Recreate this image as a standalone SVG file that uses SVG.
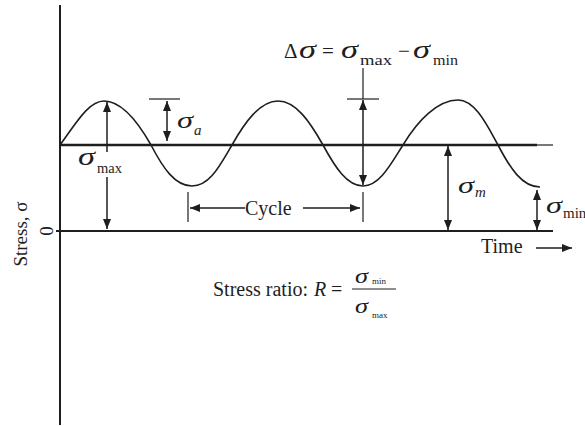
<svg xmlns="http://www.w3.org/2000/svg" width="585" height="426" viewBox="0 0 585 426">
<style>
.ln{stroke:#1e1e1e;fill:none}
.t{font-family:"Liberation Serif","Times New Roman",serif;fill:#1e1e1e}
.s{font-family:"Liberation Serif","Times New Roman",serif;font-style:italic;fill:#1e1e1e}
</style>
<defs>
<marker id="ah" viewBox="0 0 10 8" refX="10" refY="4" markerWidth="10" markerHeight="8" markerUnits="userSpaceOnUse" orient="auto-start-reverse">
<path d="M0,0 L10,4 L0,8 Z" fill="#1e1e1e"/>
</marker>
</defs>
<rect width="585" height="426" fill="#fff"/>
<g id="axes">
<line class="ln" x1="60" y1="5" x2="60" y2="425" stroke-width="2"/>
<line class="ln" x1="56" y1="231" x2="553" y2="231" stroke-width="2"/>
<line class="ln" x1="60" y1="145" x2="537" y2="145" stroke-width="2.5"/>
<line class="ln" x1="537" y1="145" x2="553" y2="145" stroke-width="1.2"/>
</g>
<g id="wave">
<path class="ln" stroke-width="1.6" d="M60,145 C75,125 88,101 104,101 C122,101 138,122 151,145 C163,168 175,186 192,186 C210,186 220,165 232,145 C245,122 260,101 278,101 C296,101 310,122 323,145 C335,167 347,186 363,186 C380,186 392,162 403,145 C418,120 438,100 458,100 C475,100 487,125 498,145 C510,168 522,187 540,187"/>
</g>
<g id="connectors">
<line class="ln" stroke-width="1.5" x1="107" y1="152" x2="107" y2="102" marker-end="url(#ah)"/>
<line class="ln" stroke-width="1.5" x1="107" y1="177" x2="107" y2="229" marker-end="url(#ah)"/>
<line class="ln" stroke-width="1.2" x1="149" y1="99" x2="180" y2="99"/>
<line class="ln" stroke-width="1.5" x1="167" y1="101" x2="167" y2="141" marker-start="url(#ah)" marker-end="url(#ah)"/>
<line class="ln" stroke-width="1.2" x1="363" y1="68" x2="363" y2="99"/>
<line class="ln" stroke-width="1.2" x1="347" y1="99" x2="379" y2="99"/>
<line class="ln" stroke-width="1.5" x1="363" y1="100" x2="363" y2="185" marker-start="url(#ah)" marker-end="url(#ah)"/>
<line class="ln" stroke-width="1.5" x1="448" y1="146" x2="448" y2="230" marker-start="url(#ah)" marker-end="url(#ah)"/>
<line class="ln" stroke-width="1.5" x1="537" y1="190" x2="537" y2="230" marker-start="url(#ah)" marker-end="url(#ah)"/>
<line class="ln" stroke-width="1.2" x1="188" y1="192" x2="188" y2="222"/>
<line class="ln" stroke-width="1.2" x1="363" y1="192" x2="363" y2="222"/>
<line class="ln" stroke-width="1.5" x1="245" y1="208" x2="190" y2="208" marker-end="url(#ah)"/>
<line class="ln" stroke-width="1.5" x1="303" y1="208" x2="360" y2="208" marker-end="url(#ah)"/>
<line class="ln" stroke-width="1.5" x1="536" y1="248" x2="572" y2="248" marker-end="url(#ah)"/>
<line class="ln" stroke-width="1" x1="352" y1="289" x2="396" y2="289"/>
</g>
<g id="labels">
<text class="t" font-size="19" transform="translate(27,234) rotate(-90)" text-anchor="middle">Stress, σ</text>
<text class="t" font-size="19" transform="translate(53,231) rotate(-90)" text-anchor="middle">0</text>
<text class="s" font-size="25" x="78" y="165" textLength="17" lengthAdjust="spacingAndGlyphs">σ</text>
<text class="t" font-size="14" x="97" y="173" textLength="25" lengthAdjust="spacingAndGlyphs">max</text>
<text class="s" font-size="24" x="177" y="128" textLength="16" lengthAdjust="spacingAndGlyphs">σ</text>
<text class="s" font-size="15" x="194" y="135">a</text>
<text class="t" font-size="21" x="284" y="58">Δ</text>
<text class="s" font-size="25" x="299" y="58" textLength="17" lengthAdjust="spacingAndGlyphs">σ</text>
<text class="t" font-size="21" x="322" y="58">=</text>
<text class="s" font-size="25" x="341" y="58" textLength="17" lengthAdjust="spacingAndGlyphs">σ</text>
<text class="t" font-size="15" x="360" y="65" textLength="32" lengthAdjust="spacingAndGlyphs">max</text>
<text class="t" font-size="21" x="398" y="58">−</text>
<text class="s" font-size="25" x="413" y="58" textLength="17" lengthAdjust="spacingAndGlyphs">σ</text>
<text class="t" font-size="15" x="433" y="65" textLength="25" lengthAdjust="spacingAndGlyphs">min</text>
<text class="s" font-size="24" x="458" y="193" textLength="16" lengthAdjust="spacingAndGlyphs">σ</text>
<text class="s" font-size="15" x="475" y="197">m</text>
<text class="s" font-size="24" x="546" y="213" textLength="16" lengthAdjust="spacingAndGlyphs">σ</text>
<text class="t" font-size="15" x="563" y="218">min</text>
<text class="t" font-size="20" x="245" y="215">Cycle</text>
<text class="t" font-size="20" x="481" y="253">Time</text>
<text class="t" font-size="20" x="213" y="296">Stress ratio:</text>
<text class="s" font-size="20" x="314" y="296">R</text>
<text class="t" font-size="20" x="331" y="296">=</text>
<text class="s" font-size="21" x="355" y="283" textLength="13" lengthAdjust="spacingAndGlyphs">σ</text>
<text class="t" font-size="9" x="372" y="284">min</text>
<text class="s" font-size="21" x="355" y="313" textLength="13" lengthAdjust="spacingAndGlyphs">σ</text>
<text class="t" font-size="9" x="372" y="318">max</text>
</g>
</svg>
